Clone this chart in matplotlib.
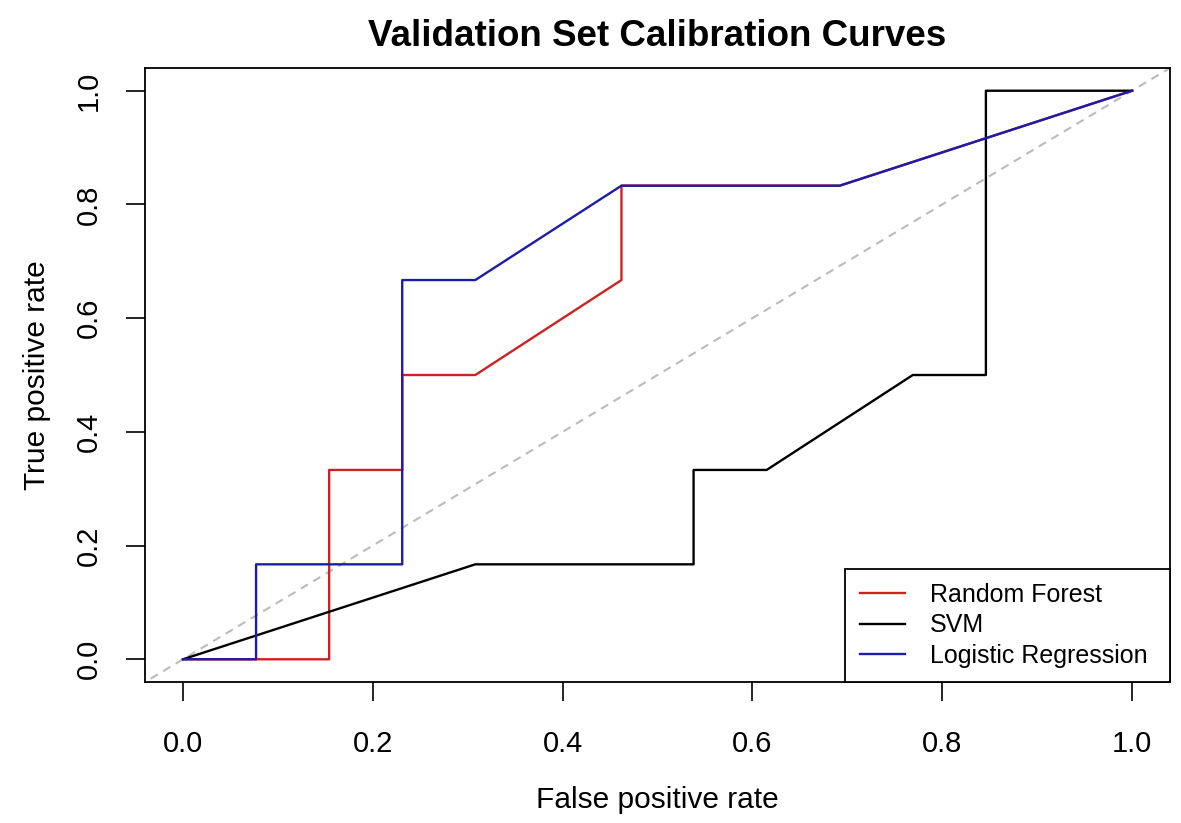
import matplotlib
matplotlib.use('Agg')
import matplotlib.pyplot as plt

plt.rcParams['font.family'] = ['Liberation Sans', 'DejaVu Sans']

# datos de las curvas (FPR, TPR)
rf_fpr = [0.0, 0.077, 0.154, 0.154, 0.231, 0.231, 0.308, 0.462, 0.462, 0.692, 1.0]
rf_tpr = [0.0, 0.0, 0.0, 0.333, 0.333, 0.5, 0.5, 0.667, 0.833, 0.833, 1.0]

svm_fpr = [0.0, 0.308, 0.538, 0.538, 0.615, 0.769, 0.846, 0.846, 1.0]
svm_tpr = [0.0, 0.167, 0.167, 0.333, 0.333, 0.5, 0.5, 1.0, 1.0]

lr_fpr = [0.0, 0.077, 0.077, 0.231, 0.231, 0.308, 0.462, 0.692, 1.0]
lr_tpr = [0.0, 0.0, 0.167, 0.167, 0.667, 0.667, 0.833, 0.833, 1.0]

ticks = [0.0, 0.2, 0.4, 0.6, 0.8, 1.0]
tick_labels = ['0.0', '0.2', '0.4', '0.6', '0.8', '1.0']

fig = plt.figure(figsize=(11.81, 8.23), dpi=100)
ax = fig.add_axes([0.1228, 0.1713, 0.8679, 0.7461])

ax.plot([-0.1, 1.1], [-0.1, 1.1], color='#bbbbbb', linestyle=(0, (4, 3)), lw=1.5)
ax.plot(rf_fpr, rf_tpr, color='#cc2222', lw=1.7, label='Random Forest')
ax.plot(svm_fpr, svm_tpr, color='black', lw=1.7, label='SVM')
ax.plot(lr_fpr, lr_tpr, color='#1c1caa', lw=1.7, label='Logistic Regression')

ax.set_xlim(-0.04, 1.04)
ax.set_ylim(-0.04, 1.04)
ax.set_xticks(ticks)
ax.set_xticklabels(tick_labels)
ax.set_yticks(ticks)
ax.set_yticklabels(tick_labels, rotation=90, va='center')
ax.tick_params(direction='out', length=13.5, width=1.2, labelsize=21)
ax.tick_params(axis='x', pad=21)
ax.tick_params(axis='y', pad=17)
for s in ax.spines.values():
    s.set_linewidth(1.3)

ax.set_xlabel('False positive rate', fontsize=21.5, labelpad=20)
ax.set_ylabel('True positive rate', fontsize=21.5, labelpad=17)
ax.set_title('Validation Set Calibration Curves', fontsize=26.5, fontweight='bold', pad=16)

leg = ax.legend(loc='lower left', bbox_to_anchor=(0.683, 0.0, 0.317, 0.194), mode='expand',
                borderaxespad=0, fancybox=False, edgecolor='black', fontsize=18,
                handlelength=1.8, handletextpad=1.0, labelspacing=0.25, borderpad=0.58,
                framealpha=1)
leg.get_frame().set_linewidth(1.3)

plt.savefig('out.png', dpi=100)
plt.close()
